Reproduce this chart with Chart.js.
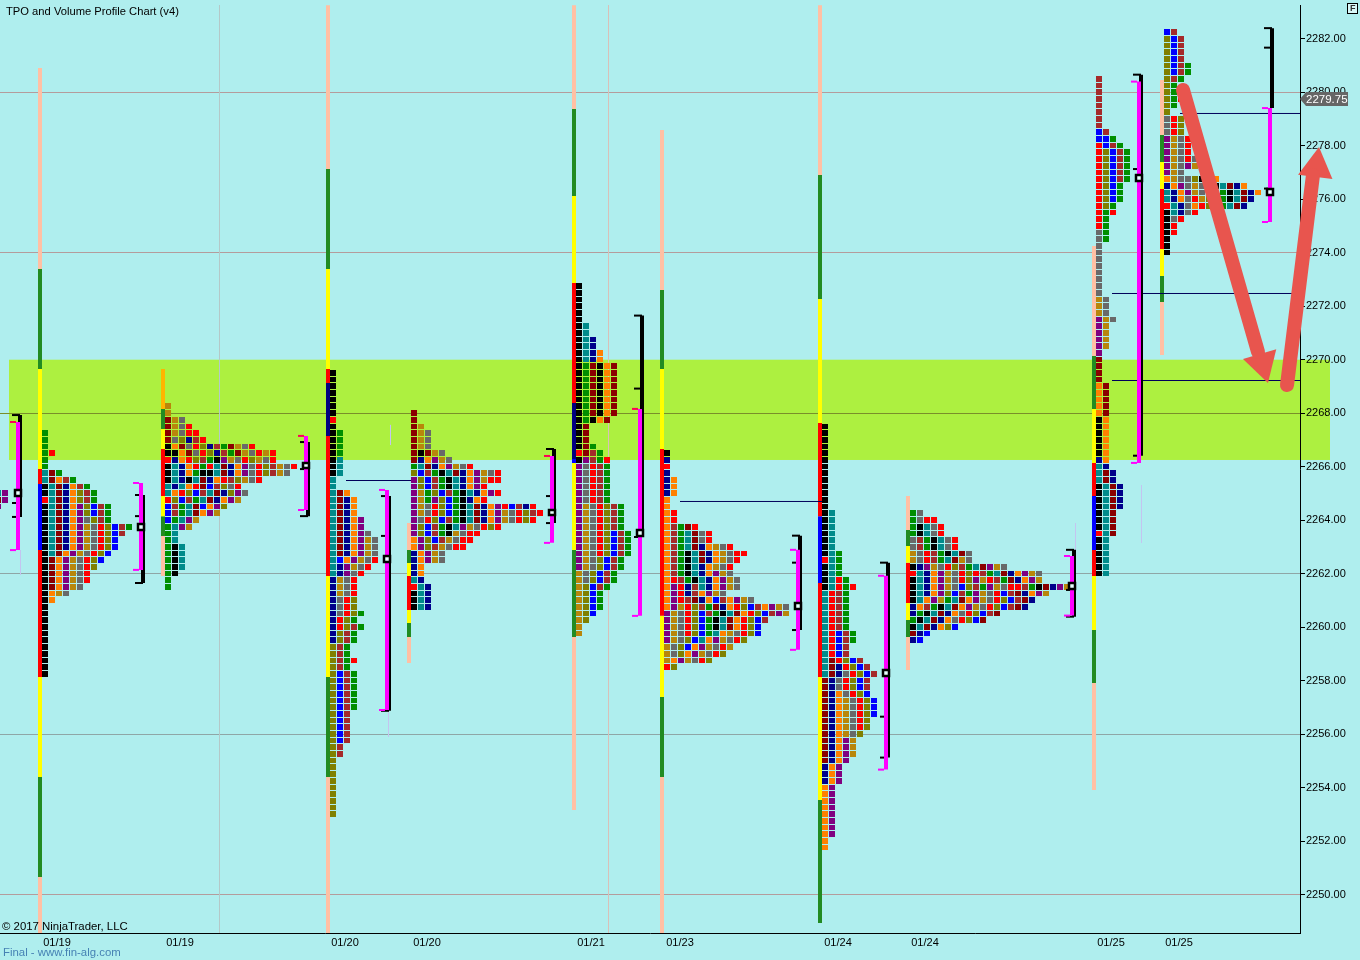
<!DOCTYPE html>
<html lang="en">
<head>
<meta charset="UTF-8">
<title>TPO and Volume Profile Chart (v4)</title>
<script src="https://cdn.jsdelivr.net/npm/chart.js"></script>
<style>
  html, body { margin: 0; padding: 0; background: #afeeee; }
  canvas { display: block; }
</style>
</head>
<body>
<canvas id="tpoChart" width="1360" height="960"></canvas>
<script>
// axis
const priceTicks = [2250,2252,2254,2256,2258,2260,2262,2264,2266,2268,2270,2272,2274,2276,2278,2280,2282];
const roseLines = [2250,2274,2280];
const slateLines = [2256,2262];
const dateLabels = ['01/19','01/19','01/20','01/20','01/21','01/23','01/24','01/24','01/25','01/25'];
const datePositions = [57,180,345,427,591,680,838,925,1111,1179];
const lastPrice = 2279.75;

// one string per price row, top row first, one letter per TPO block
const rows0 = ['tp','mp','p'];
const rows1 = ['g','g','g','gr','g','g','tmg','tmoBg','ktmnoBg','ktmnolBg','rtmnolBg','ktmnoplbBg','ktmnoplbBg','ktmnopylBg','ktmnopdyrlbBg','ktmnopdyrlbB','ktmnopdyrlb','ktmnopdyrlb','ktmopdyrlb','kmopdyrlb','kmopdyrl','kmopdyr','kmopdyr','kmopdy','kody','ko','k','k','k','k','k','k','k','k','k','k','k'];
const rows2 = ['d','d','mdy','mdyr','mdyrr','mylnBr','komyrlnBgmdyr','kkomyrlnBgmdyrdr','rnorlBgkpdyrldyr','ktnorgrtmnopyrlBdyr','ktnogkktmnopyrlBdy','ktnktmnorBldyr','tntormbBlyr','torlbBtmnlpy','rlbBgtmnopd','bBgtmbopl','bBgtmopd','bgtpd','gtpd','gt','gt','gkt','gkt','gkt','gkt','gk','g','g'];
const rows3 = ['k','k','k','k','k','k','k','r','k','kg','kg','kg','kg','kt','kt','kt','t','t','tmo','tmno','tmno','tmno','tmnop','tmnop','tmnopy','tmnopdy','tmnopdy','tmnopdy','tbopdyr','tnpdyr','tnpyr','ndyr','ndyr','ndyr','nyrl','nyrl','nyrlg','nrlg','nrlBg','nlBg','nlBg','lBg','lBg','lBgr','lBg','lbBg','lbBg','lbBg','lbBg','lbBg','lbBg','lbB','lbB','lbB','lbB','lbB','lB','lB','l','l','l','l','l','l','l','l','l'];
const rows4 = ['m','m','md','mdy','mdy','mdy','mkmdy','mnopdy','gtmnopdyr','lbBgktmnopdyr','plbBgktnopdrr','plbBgktnopr','pdglbBgktnopr','pdgplbgknor','pdyrlbgktmnoprbBnr','pdyrlbgktmnopdyrlBr','pyrlbBgktmnopdyrlr','plbBgktpdyrlr','plbBgkdyrr','oplbBdyrr','oplBdyrr','nopdy','nopdy','no','no','tn','rtn','ktn','ktn','ktn'];
const rows5 = ['k','k','k','k','k','k','kt','kt','ktn','ktn','ktno','ktno','kgmkom','kgmkom','kgmkom','kgmkom','kgmkom','kgmkom','kgmkom','kgmkom','kgkom','km','km','km','kmg','rmBg','kpBgr','pyrBg','pyrBg','pyrBg','pyrBg','pyrBg','pyrBg','pdyrlBg','pdyrlBg','pdyrlBg','pdyrlBg','pdyrlbBg','pdyrlbBg','pdyrlbBg','pdyrlbBg','pdylbBg','pdylbBg','dylbBg','dylbBg','dlbBg','dlbg','dlbg','dlbg','dlb','dl','d','d'];
const rows6 = ['k','n','r','n','no','no','no','o','o','or','or','oBgmr','oBgtmyr','oBgtmyr','oBgtmnodyr','oBgktmnodyrr','oBgktmnodyr','oBgktnodyr','oBgktnopdy','orBgktnopdy','oprnBtnopdy','oprnBopdy','oprBmnobBopdy','opdrlBgmnorlbBopdy','pdyrlbBgktmorlbBpd','pdyrlbgktmorlbB','pdyrlbgktmorlb','pdyrlbgtodyrlb','pdylbtopdyrl','dylbopdyrd','dylopdyrl','dopdyrl','rl'];
const rows7 = ['k','k','k','k','k','k','k','k','k','k','k','k','k','kt','kt','kt','kt','kt','kt','ktg','rtg','ktg','ktg','ktrg','ktrgr','trBg','trBg','trBg','trBg','trBg','trBg','trbBg','trbBg','trbB','trbB','tmrlbB','tmnrlbB','tmnyrlbB','mnyrlbB','mnyrlbB','mnoyrlb','mnodyrlb','mnodyrlb','mnodyrlb','mnodyrl','mnodyrl','mnodyl','mnopd','mnopd','mnopd','mnop','nop','nop','nop','op','op','op','op','op','op','op','op','o','o'];
const rows8 = ['gy','gyrr','gktyr','gktyr','yBgktyr','yBgktyr','dyrBgktmy','dyrBgtmdy','knpdyrlBgtmpdy','rtnopdyrlrBgtmnopdy','ktnopdyrlpdrBgmnopd','ktnopdyblBgpdyrrBgkmnpd','ktnoplbBgpdyrbBmnopd','ktopdgtmopdyrlbBmn','noBgktmopdyrlbBmn','ngktmnoyrlbBm','gktmnoyrlbm','ktmnolb','mnb','nb'];
const rows9 = ['B','B','B','B','B','B','B','B','bB','bbg','rbBg','rlbBg','rlbBg','rlbBg','rlbBg','rlbBg','rlbg','rlbg','rlbg','rlg','rgr','rg','rg','yg','yg','y','y','y','y','y','y','y','y','dy','dy','dy','pdy','pd','pd','pd','pd','p','m','m','m','m','om','om','om','om','om','ko','ko','ko','ko','ko','ko','no','tn','tmn','tmn','ktmn','ktmn','ktmn','ktmn','ktm','ktm','ktm','rtm','kt','kt','kt','kt','kt','kt'];
const rows10 = ['bB','lbB','lbB','lbB','lbB','lbBg','lbBg','lBg','lg','lgB','lgr','lg','l','yrl','yrl','yrl','pdyr','pdyr','pdyr','pdyry','pdypd','pdy','odyylkro','nopydyrktmno','tnopdyrbgktmno','tnoyrdlbgktmn','rtnyorlbgtmn','ktnyr','kyr','kr','kr','k','k','k'];

const profileRows = [rows0,rows1,rows2,rows3,rows4,rows5,rows6,rows7,rows8,rows9,rows10];
const profileX = [-5,42,165,330,411,576,664,822,910,1096,1164];
const profileTop = [2265,2267.25,2268.25,2269.5,2268,2272.75,2266.5,2267.5,2264.25,2280.5,2282.25];

// period strip beside each profile: price breaks and the colour of each piece
const stripPrices = [
  [2280.91,2273.39,2269.65,2265.91,2265.35,2262.88,2258.13,2254.39,2250.65,2248.56],
  [2269.65,2268.16,2267.41,2266.66,2264.90,2264.15,2263.41,2261.91],
  [2283.26,2277.13,2273.39,2269.65,2269.13,2267.15,2261.91,2258.13,2254.39,2248.56],
  [2263.89,2262.88,2262.40,2261.91,2260.64,2260.15,2259.63,2258.66],
  [2283.26,2279.38,2276.12,2272.87,2268.38,2266.29,2266.14,2262.88,2259.63,2253.16],
  [2278.59,2272.61,2269.65,2266.66,2260.42,2257.39,2254.39,2248.56],
  [2283.26,2276.91,2272.27,2267.63,2264.15,2261.65,2258.13,2253.53,2248.93],
  [2264.90,2263.63,2263.03,2262.41,2260.90,2260.27,2259.63,2258.40],
  [2274.25,2270.14,2268.16,2266.14,2264.90,2262.88,2261.91,2259.89,2257.91,2253.91],
  [2280.46,2278.40,2277.39,2276.38,2274.14,2273.13,2272.16,2270.18]
];
const stripColors = ['efyrbryfe','ofyryfe','efyrnryfe','efyryfe','efyrnbyfe','efyryfe','efyrbryf','efyryfe','efyrbryfe','efyryfe'];

// value area and range brackets
const bracketX = [18,141,306,387,552,640,798,886,1072,1139,1270];
const rangeTop = [2267.93,2264.94,2266.92,2264.90,2266.66,2271.65,2263.42,2262.41,2262.89,2280.66,2282.40];
const rangeBottom = [2264.12,2261.65,2264.15,2256.87,2263.89,2263.37,2259.89,2255.12,2260.39,2266.41,2279.41];
const rangeTicks = [
  [2267.93,2264.64,2264.12],[2264.94,2264.15,2261.65],[2266.92,2265.91,2264.15],[2264.90,2263.41,2256.87],
  [2266.66,2264.90,2263.89],[2271.65,2268.92,2263.37],[2263.42,2262.41,2259.89],[2262.41,2256.65,2255.12],
  [2262.89,2261.39,2260.39],[2280.66,2277.13,2266.41],[2282.40,2281.67,2276.40]
];
const valueTop = [2267.67,2265.39,2267.15,2265.13,2266.40,2268.16,2262.89,2261.92,2262.66,2280.40,2279.41];
const valueBottom = [2262.88,2262.14,2264.38,2256.90,2263.15,2260.42,2259.15,2254.67,2260.43,2266.14,2275.15];
const pocPrice = [2265.02,2263.75,2266.04,2262.54,2264.28,2263.52,2260.78,2258.27,2261.54,2276.78,2276.26];

// naked POC lines
const nakedStart = [346,680,1180,1112,1112];
const nakedEnd = [411,822,1300,1300,1300];
const nakedPrice = [2265.482,2264.698,2279.208,2272.476,2269.222];

// thin lines
const sessionLineX = [219,608];
const faintX = [20,388,390,1075,1141];
const faintTop = [2262.88,2256.90,2267.56,2263.89,2265.31];
const faintBottom = [2261.95,2255.89,2266.81,2262.88,2263.15];

// marked zone and hand drawn arrows
const zoneLeft = 9, zoneRight = 1330, zoneHigh = 2270, zoneLow = 2266.25;
const arrowStartX = [1183,1287];
const arrowStartPrice = [2280.09,2269.05];
const arrowEndX = [1258,1313];
const arrowEndPrice = [2270.29,2276.91];
const arrowHeadX = [1262.4,1316.5];
const arrowHeadPrice = [2269.85,2277.21];
const arrowHeadAngle = [163.8,7.2];

const blockPalette = {
  k:'#000000', r:'#ff0000', b:'#0000ff', n:'#00008b', m:'#8b0000', B:'#a52a2a', g:'#008f00',
  t:'#008b8b', o:'#ff8000', d:'#b8860b', p:'#800080', l:'#808000', y:'#696969'
};
const stripPalette = {
  e:'#ffc0a4', f:'#228b22', y:'#ffff00', r:'#ff0000', b:'#0000ff', n:'#000080', o:'#ffb400'
};
const sessionLineColors = ['#b4c8c8','#d8c0b8'];

const datasets = [];
const flat = (x0, y0, x1, y1) => [{x: x0, y: y0}, {x: x1, y: y1}];

function addLine(points, color, width, order, extra) {
  datasets.push(Object.assign({
    data: points, showLine: true, pointRadius: 0, borderColor: color,
    borderWidth: width, borderCapStyle: 'butt', order: order
  }, extra));
}

// TPO blocks, one dataset per colour
const blocks = {};
profileRows.forEach((rows, p) => {
  rows.forEach((row, r) => {
    [...row].forEach((letter, c) => {
      (blocks[letter] = blocks[letter] || []).push({x: profileX[p] + 3 + c * 7, y: profileTop[p] - r * 0.25});
    });
  });
});
Object.keys(blocks).forEach(letter => {
  datasets.push({
    data: blocks[letter], pointStyle: 'rect', pointRadius: 4.25, pointBorderWidth: 0,
    backgroundColor: blockPalette[letter], order: 5
  });
});

// strips
stripColors.forEach((letters, p) => {
  [...letters].forEach((letter, s) => {
    const x = profileX[p + 1] - 2;
    addLine(flat(x, stripPrices[p][s], x, stripPrices[p][s + 1]), stripPalette[letter], 4, 8);
  });
});

sessionLineX.forEach((x, i) => addLine(flat(x + 0.5, 2283.26, x + 0.5, 2248.56), sessionLineColors[i], 1, 9));
faintX.forEach((x, i) => addLine(flat(x + 0.5, faintTop[i], x + 0.5, faintBottom[i]), '#c4c4f0', 1, 9));
nakedPrice.forEach((y, i) => addLine(flat(nakedStart[i], y, nakedEnd[i], y), '#00005a', 1, 4));

// brackets, magenta turns crimson where it crosses the zone
bracketX.forEach((x, i) => {
  const blackX = x + 2;
  addLine(flat(blackX, rangeTop[i], blackX, rangeBottom[i]), '#000000', 4, 3);
  rangeTicks[i].forEach(y => addLine(flat(x - 6, y, blackX, y), '#000000', 2, 3));

  const top = valueTop[i], bottom = valueBottom[i];
  addLine(flat(x, top, x, bottom), '#ff00ff', 4, 2);
  if (top > zoneLow && bottom < zoneHigh) {
    addLine(flat(x, Math.min(top, zoneHigh), x, Math.max(bottom, zoneLow)), '#ff0055', 4, 2);
  }
  [top, bottom].forEach(y => {
    const inZone = y < zoneHigh && y > zoneLow;
    addLine(flat(x - 8, y, x - 2, y), inZone ? '#ff0055' : '#ff00ff', 2, 2);
  });
  datasets.push({
    data: [{x: x, y: pocPrice[i]}], pointStyle: 'rect', pointRadius: 4.25, pointBorderWidth: 2.5,
    pointBorderColor: '#000000', backgroundColor: '#e8ffff', order: 1
  });
});

// arrows
arrowStartX.forEach((x, i) => {
  addLine(flat(x, arrowStartPrice[i], arrowEndX[i], arrowEndPrice[i]), '#e8554e', 14, 0,
    {clip: false, borderCapStyle: 'round'});
  datasets.push({
    data: [{x: arrowHeadX[i], y: arrowHeadPrice[i]}], pointStyle: 'triangle', pointRadius: 20,
    pointRotation: arrowHeadAngle[i], pointBorderWidth: 0, backgroundColor: '#e8554e', clip: false, order: 0
  });
});

// canvas background and zone sit under the grid
const backdrop = {
  id: 'backdrop',
  beforeDraw(chart) {
    const {ctx, scales: {x, y}} = chart;
    ctx.save();
    ctx.fillStyle = '#afeeee';
    ctx.fillRect(0, 0, chart.width, chart.height);
    ctx.fillStyle = '#adf040';
    const top = y.getPixelForValue(zoneHigh);
    ctx.fillRect(x.getPixelForValue(zoneLeft), top, zoneRight - zoneLeft, y.getPixelForValue(zoneLow) - top);
    ctx.restore();
  }
};

// snap the blocks to whole pixels so they stay crisp like the original
const crispBlocks = {
  id: 'crispBlocks',
  beforeDatasetsDraw(chart) {
    const ctx = chart.ctx;
    const rect = ctx.rect;
    ctx.rect = function (x, y, w, h) {
      const rx = Math.round(x), ry = Math.round(y);
      rect.call(ctx, rx, ry, Math.round(x + w) - rx, Math.round(y + h - 0.32) - ry);
    };
    chart.$restoreRect = () => { delete ctx.rect; };
  },
  afterDatasetsDraw(chart) {
    chart.$restoreRect();
  }
};

const annotations = {
  id: 'annotations',
  afterDraw(chart) {
    const {ctx, scales: {y}} = chart;
    ctx.save();
    ctx.textBaseline = 'middle';
    ctx.fillStyle = '#000';
    ctx.font = '11.2px "Liberation Sans"';
    ctx.fillText('TPO and Volume Profile Chart (v4)', 6, 12);
    ctx.font = '11.4px "Liberation Sans"';
    ctx.fillText('© 2017 NinjaTrader, LLC', 2, 927);
    ctx.fillStyle = '#4682b4';
    ctx.fillText('Final - www.fin-alg.com', 3, 953);

    // last price tag
    const py = Math.round(y.getPixelForValue(lastPrice));
    ctx.fillStyle = '#666666';
    ctx.beginPath();
    ctx.moveTo(1300, py);
    ctx.lineTo(1306, py - 7);
    ctx.lineTo(1348, py - 7);
    ctx.lineTo(1348, py + 7);
    ctx.lineTo(1306, py + 7);
    ctx.closePath();
    ctx.fill();
    ctx.fillStyle = '#ffffff';
    ctx.font = '11.5px "Liberation Sans"';
    ctx.fillText(lastPrice.toFixed(2), 1306, py + 0.5);

    // F button
    ctx.fillStyle = '#d8f8f8';
    ctx.fillRect(1347, 3, 11, 11);
    ctx.strokeStyle = '#000';
    ctx.strokeRect(1347.5, 3.5, 10, 10);
    ctx.fillStyle = '#333';
    ctx.font = 'bold 9px "Liberation Sans"';
    ctx.fillText('F', 1350, 9);
    ctx.restore();
  }
};

new Chart(document.getElementById('tpoChart'), {
  type: 'scatter',
  data: {datasets},
  plugins: [backdrop, crispBlocks, annotations],
  options: {
    responsive: false,
    animation: false,
    events: [],
    layout: {autoPadding: false, padding: {top: 5, left: 0, right: 0, bottom: 0}},
    plugins: {legend: {display: false}, tooltip: {enabled: false}},
    scales: {
      x: {
        type: 'linear', min: 0, max: 1300,
        afterFit(axis) { axis.height = 27; axis.paddingLeft = 0; axis.paddingRight = 0; },
        afterBuildTicks(axis) { axis.ticks = datePositions.map(value => ({value})); },
        grid: {display: true, drawOnChartArea: false, drawTicks: false},
        border: {color: '#000', width: 1},
        ticks: {
          padding: 3, color: '#000', autoSkip: false, maxRotation: 0, minRotation: 0,
          font: {family: '"Liberation Sans"', size: 11},
          callback: (v, i) => dateLabels[i]
        }
      },
      y: {
        type: 'linear', position: 'right', min: 2248.56, max: 2283.265,
        afterFit(axis) { axis.width = 60; axis.paddingTop = 0; axis.paddingBottom = 0; },
        afterBuildTicks(axis) { axis.ticks = priceTicks.map(value => ({value})); },
        grid: {
          color: ctx => ctx.tick.value === 2268 ? '#7a8f2a' : roseLines.includes(ctx.tick.value) ? '#b49c9c' : slateLines.includes(ctx.tick.value) ? '#8fa6a6' : 'transparent',
          tickColor: '#000', tickLength: 5
        },
        border: {color: '#000', width: 1},
        ticks: {
          padding: 1, color: '#000',
          font: {family: '"Liberation Sans"', size: 11},
          callback: v => v.toFixed(2)
        }
      }
    }
  }
});
</script>
</body>
</html>
